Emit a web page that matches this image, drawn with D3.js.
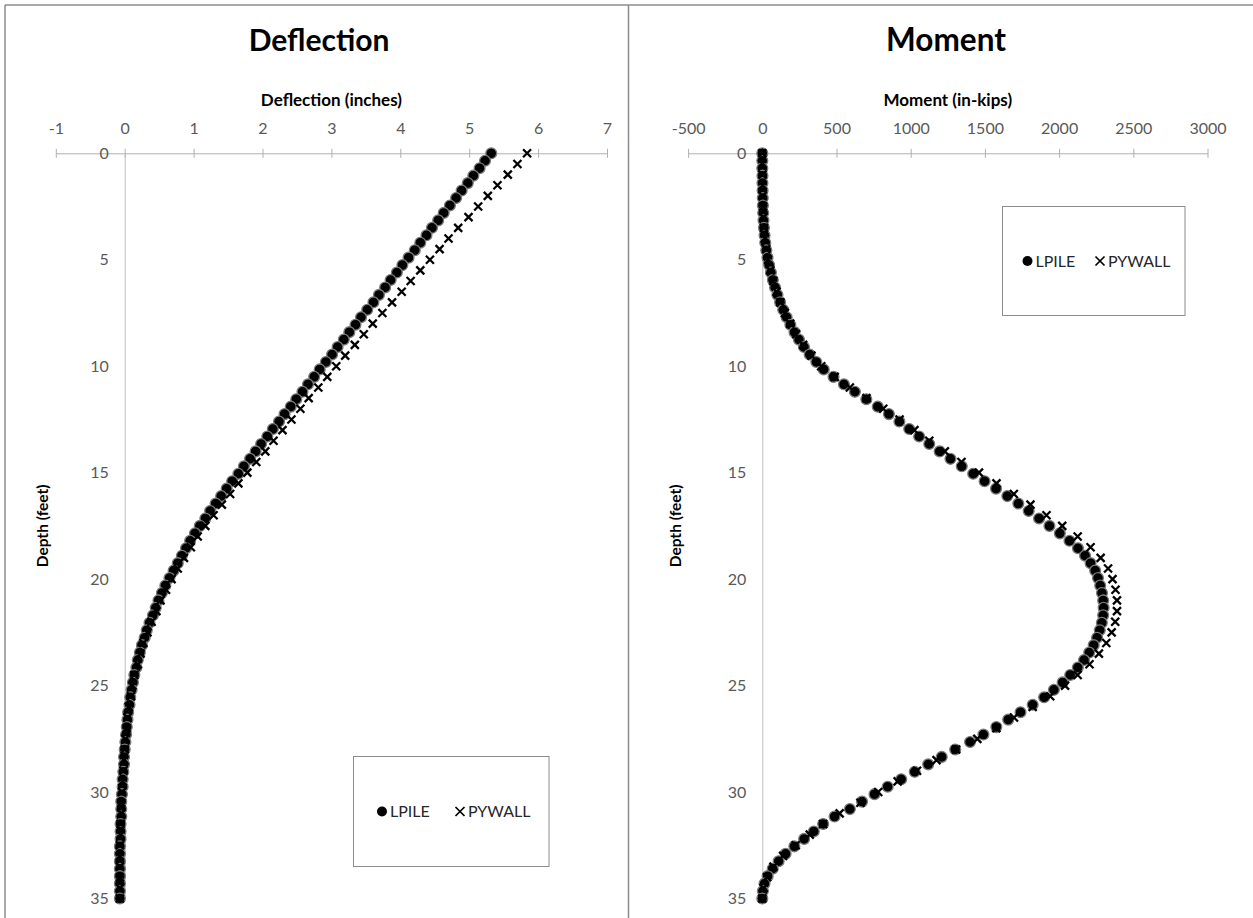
<!DOCTYPE html>
<html><head><meta charset="utf-8">
<script src="https://cdn.jsdelivr.net/npm/d3@7"></script>
<style>
html,body{margin:0;padding:0;background:#fff;}
svg text{font-family:Lato,"Open Sans",sans-serif;}
</style></head>
<body>
<svg id="c" width="1253" height="918"></svg>
<script>
// ---------- data ----------
// LPILE output: 100 increments over 35 ft
const depthLPILE = [0,0.35,0.7,1.05,1.4,1.75,2.1,2.45,2.8,3.15,3.5,3.85,4.2,4.55,4.9,5.25,5.6,5.95,6.3,6.65,7,7.35,7.7,8.05,8.4,8.75,9.1,9.45,9.8,10.15,10.5,10.85,11.2,11.55,11.9,12.25,12.6,12.95,13.3,13.65,14,14.35,14.7,15.05,15.4,15.75,16.1,16.45,16.8,17.15,17.5,17.85,18.2,18.55,18.9,19.25,19.6,19.95,20.3,20.65,21,21.35,21.7,22.05,22.4,22.75,23.1,23.45,23.8,24.15,24.5,24.85,25.2,25.55,25.9,26.25,26.6,26.95,27.3,27.65,28,28.35,28.7,29.05,29.4,29.75,30.1,30.45,30.8,31.15,31.5,31.85,32.2,32.55,32.9,33.25,33.6,33.95,34.3,34.65,35];
// PYWALL output: 0.5 ft spacing
const depthPYWALL = [0,0.5,1,1.5,2,2.5,3,3.5,4,4.5,5,5.5,6,6.5,7,7.5,8,8.5,9,9.5,10,10.5,11,11.5,12,12.5,13,13.5,14,14.5,15,15.5,16,16.5,17,17.5,18,18.5,19,19.5,20,20.5,21,21.5,22,22.5,23,23.5,24,24.5,25,25.5,26,26.5,27,27.5,28,28.5,29,29.5,30,30.5,31,31.5,32,32.5,33,33.5,34,34.5,35];

const deflLPILE = [5.32,5.23,5.15,5.06,4.98,4.89,4.81,4.72,4.63,4.55,4.46,4.38,4.29,4.21,4.12,4.03,3.95,3.86,3.78,3.69,3.61,3.52,3.43,3.35,3.26,3.18,3.09,3.01,2.92,2.83,2.75,2.66,2.58,2.49,2.41,2.32,2.24,2.15,2.07,1.98,1.90,1.82,1.73,1.65,1.56,1.48,1.40,1.32,1.24,1.17,1.09,1.02,0.95,0.89,0.83,0.77,0.71,0.65,0.59,0.54,0.49,0.45,0.41,0.36,0.32,0.29,0.25,0.22,0.19,0.17,0.14,0.12,0.10,0.08,0.07,0.05,0.04,0.03,0.02,0.01,0.00,-0.01,-0.01,-0.02,-0.03,-0.03,-0.04,-0.05,-0.05,-0.05,-0.06,-0.06,-0.06,-0.07,-0.07,-0.07,-0.07,-0.07,-0.07,-0.07,-0.07];

const deflPYWALL = [5.84,5.70,5.56,5.41,5.27,5.13,4.99,4.84,4.70,4.57,4.43,4.29,4.15,4.02,3.88,3.74,3.60,3.47,3.34,3.20,3.07,2.94,2.81,2.67,2.55,2.42,2.29,2.16,2.04,1.91,1.78,1.65,1.53,1.41,1.29,1.17,1.06,0.96,0.86,0.77,0.68,0.60,0.52,0.46,0.39,0.33,0.27,0.23,0.19,0.14,0.11,0.09,0.06,0.04,0.03,0.01,0.00,-0.01,-0.02,-0.03,-0.04,-0.05,-0.05,-0.06,-0.06,-0.07,-0.07,-0.07,-0.07,-0.07,-0.07];

const momLPILE = [0,0,0,1,1,2,3,4,6,8,11,15,20,27,35,46,58,71,86,102,120,141,164,189,217,247,281,319,364,414,480,550,624,701,778,853,924,990,1057,1125,1195,1268,1344,1421,1498,1575,1651,1725,1795,1865,1935,2005,2070,2127,2175,2212,2243,2262,2277,2289,2297,2300,2297,2288,2274,2256,2233,2203,2168,2126,2075,2024,1965,1899,1822,1740,1657,1577,1490,1400,1300,1209,1118,1027,936,845,756,672,590,487,410,347,282,216,157,110,70,36,15,4,0];

const momPYWALL = [0,0,1,2,3,5,7,11,17,26,38,54,74,96,122,152,188,228,275,331,397,488,590,702,815,925,1025,1125,1230,1342,1460,1578,1695,1807,1915,2021,2125,2212,2280,2330,2360,2380,2390,2390,2378,2354,2318,2268,2205,2125,2040,1940,1822,1696,1577,1449,1306,1174,1043,912,781,661,521,410,320,225,140,75,32,8,0];

const deflTicks = [-1,0,1,2,3,4,5,6,7];
const momTicks = [-500,0,500,1000,1500,2000,2500,3000];
const depthTicks = [0,5,10,15,20,25,30,35];
const seriesNames = ["LPILE","PYWALL"];

// ---------- drawing ----------
const svg = d3.select("#c");
svg.append("rect").attr("width",1253).attr("height",918).attr("fill","#fff");

const frame = svg.append("g").attr("stroke","#8c8c8c").attr("stroke-width",1.5).attr("fill","none");
frame.append("line").attr("x1",5).attr("y1",5).attr("x2",1253).attr("y2",5);
frame.append("line").attr("x1",5).attr("y1",5).attr("x2",5).attr("y2",918);
frame.append("line").attr("x1",628.5).attr("y1",5).attr("x2",628.5).attr("y2",918);

const yScale = d3.scaleLinear().domain([0,35]).range([153.3,898.5]);

function xMarker(g, size, sw){
  g.append("path").attr("d",`M${-size},${-size}L${size},${size}M${-size},${size}L${size},${-size}`)
   .attr("stroke","#000").attr("stroke-width",sw).attr("fill","none");
}

function panel(cfg){
  const x = d3.scaleLinear().domain(cfg.xDomain).range(cfg.xRange);
  const g = svg.append("g");

  g.append("text").attr("x",cfg.titleX).attr("y",51).attr("text-anchor","middle")
    .attr("font-size",cfg.titleSize).attr("font-weight","bold").attr("fill","#000").text(cfg.title);
  g.append("text").attr("x",(cfg.xRange[0]+cfg.xRange[1])/2).attr("y",106).attr("text-anchor","middle")
    .attr("font-size",17).attr("font-weight","bold").attr("fill","#000").text(cfg.xTitle);
  g.append("text").attr("transform",`translate(${cfg.yTitleX},${(yScale(0)+yScale(35))/2}) rotate(-90)`)
    .attr("text-anchor","middle").attr("font-size",15.5).attr("font-weight","bold").attr("fill","#000").text("Depth (feet)");

  const xa = g.append("g").attr("transform",`translate(0,${yScale(0)})`)
    .call(d3.axisTop(x).tickValues(cfg.xTicks).tickFormat(d=>String(d)).tickSizeOuter(0).tickSizeInner(4));
  xa.select(".domain").attr("stroke","#b0b0b0");
  xa.selectAll(".tick line").attr("stroke","#b0b0b0").attr("y1",-4.5).attr("y2",4.5);
  xa.selectAll(".tick text").attr("y",-19).attr("dy",0).attr("font-size",16).attr("fill","#595959")
    .attr("font-family","Lato, 'Open Sans', sans-serif");

  const ya = g.append("g").attr("transform",`translate(${x(0)},0)`)
    .call(d3.axisLeft(yScale).tickValues(depthTicks).tickFormat(d=>String(d)).tickSizeOuter(0).tickSizeInner(0).tickPadding(16));
  ya.select(".domain").attr("stroke","#c0c0c0");
  ya.selectAll(".tick text").attr("font-size",16).attr("fill","#595959")
    .attr("font-family","Lato, 'Open Sans', sans-serif");

  const pts0 = depthLPILE.map((d,i)=>({d, v:cfg.s0[i]}));
  const pts1 = depthPYWALL.map((d,i)=>({d, v:cfg.s1[i]}));
  g.append("g").selectAll("circle").data(pts0).join("circle")
    .attr("cx",p=>x(p.v)).attr("cy",p=>yScale(p.d)).attr("r",5.4)
    .attr("fill","#000").attr("stroke","#7a7a7a").attr("stroke-width",1.3);
  const cg = g.append("g").selectAll("g").data(pts1).join("g")
    .attr("transform",p=>`translate(${x(p.v)},${yScale(p.d)})`);
  cg.each(function(){ xMarker(d3.select(this),4,2.3); });

  const L = cfg.legend;
  const lg = g.append("g");
  lg.append("rect").attr("x",L.x).attr("y",L.y).attr("width",L.w).attr("height",L.h)
    .attr("fill","#fff").attr("stroke","#8c8c8c").attr("stroke-width",1);
  const cy = L.y + L.h/2;
  lg.append("circle").attr("cx",L.c0).attr("cy",cy).attr("r",5).attr("fill","#000");
  lg.append("text").attr("x",L.c0+8).attr("y",cy+5.8).attr("font-size",16).attr("fill","#262626").text(seriesNames[0]);
  const xm = lg.append("g").attr("transform",`translate(${L.c1},${cy})`);
  xMarker(xm,4.5,1.7);
  lg.append("text").attr("x",L.c1+8).attr("y",cy+5.8).attr("font-size",16).attr("fill","#262626").text(seriesNames[1]);
}

panel({
  title:"Deflection", titleX:319, titleSize:30, xTitle:"Deflection (inches)", yTitleX:48,
  xDomain:[-1,7], xRange:[55.8,607.0], xTicks:deflTicks,
  s0:deflLPILE, s1:deflPYWALL,
  legend:{x:353.5,y:756.5,w:195.5,h:110,c0:382,c1:460}
});
panel({
  title:"Moment", titleX:946, titleSize:31.5, xTitle:"Moment (in-kips)", yTitleX:681,
  xDomain:[-500,3000], xRange:[688.1,1207.5], xTicks:momTicks,
  s0:momLPILE, s1:momPYWALL,
  legend:{x:1002.5,y:206.5,w:182.5,h:109,c0:1027.5,c1:1100}
});
</script>
</body></html>
